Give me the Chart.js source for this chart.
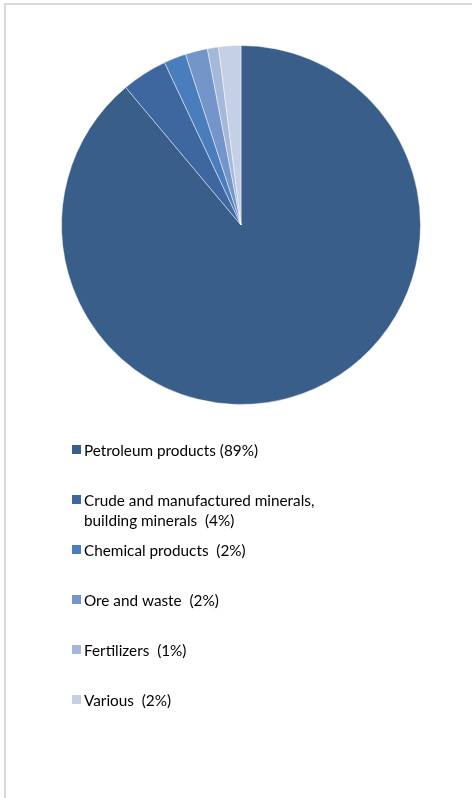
<!DOCTYPE html>
<html>
<head>
<meta charset="utf-8">
<script src="https://cdn.jsdelivr.net/npm/chart.js@4.4.1/dist/chart.umd.min.js"></script>
<style>
  html, body { margin: 0; padding: 0; background: #fff; }
  #wrap { position: relative; width: 472px; height: 798px; overflow: hidden; }
  #frame {
    position: absolute; left: 4px; top: 3px; width: 600px; height: 900px;
    border-left: 2px solid #d9d9d9; border-top: 2px solid #d9d9d9;
  }
  canvas { position: absolute; left: 0; top: 0; }
</style>
</head>
<body>
<div id="wrap">
  <div id="frame"></div>
  <canvas id="chartCanvas" width="472" height="798"></canvas>
</div>
<script>
// --- data ---
const categories = [
  "Petroleum products",
  "Crude and manufactured minerals, building minerals",
  "Chemical products",
  "Ore and waste",
  "Fertilizers",
  "Various"
];
const shares = [88.9, 4.1, 2.0, 2.0, 1.0, 2.0];
const shareLabels = ["89%", "4%", "2%", "2%", "1%", "2%"];
const sliceColors = ["#3a5e8a", "#3e67a0", "#4a7dbb", "#7495ca", "#a5b8da", "#c5d0e5"];

// legend drawn by hand so the wrapped label and spacing match
const legendFont = "15.3px Lato, 'Open Sans', sans-serif";

const sideLegend = {
  id: "sideLegend",
  afterDraw(chart) {
    const ctx = chart.ctx;
    const labels = chart.data.labels;
    const colors = chart.data.datasets[0].backgroundColor;
    ctx.save();
    ctx.font = legendFont;
    ctx.textBaseline = "middle";
    ctx.fillStyle = "#000";
    labels.forEach((name, i) => {
      const y = 450 + i * 50;
      const sep = i === 0 ? " " : "  ";
      const text = `${name}${sep}(${shareLabels[i]})`;
      // simple word wrap
      const words = text.split(" ");
      const lines = [];
      let line = "";
      words.forEach(w => {
        const test = line === "" ? w : line + " " + w;
        if (ctx.measureText(test).width > 245 && line !== "") {
          lines.push(line);
          line = w;
        } else {
          line = test;
        }
      });
      lines.push(line);
      ctx.fillStyle = colors[i];
      ctx.fillRect(72, y - 5, 9, 9);
      ctx.fillStyle = "#000";
      lines.forEach((l, k) => ctx.fillText(l, 84, y + 1 + k * 20));
    });
    ctx.restore();
  }
};

new Chart(document.getElementById("chartCanvas"), {
  type: "pie",
  data: {
    labels: categories,
    datasets: [{
      data: shares,
      backgroundColor: sliceColors,
      borderColor: "rgba(255,255,255,0.45)",
      borderWidth: 1
    }]
  },
  options: {
    responsive: false,
    animation: false,
    layout: { padding: { left: 61, right: 51, top: 45, bottom: 393 } },
    plugins: {
      legend: { display: false },
      tooltip: { enabled: false }
    }
  },
  plugins: [sideLegend]
});
</script>
</body>
</html>
